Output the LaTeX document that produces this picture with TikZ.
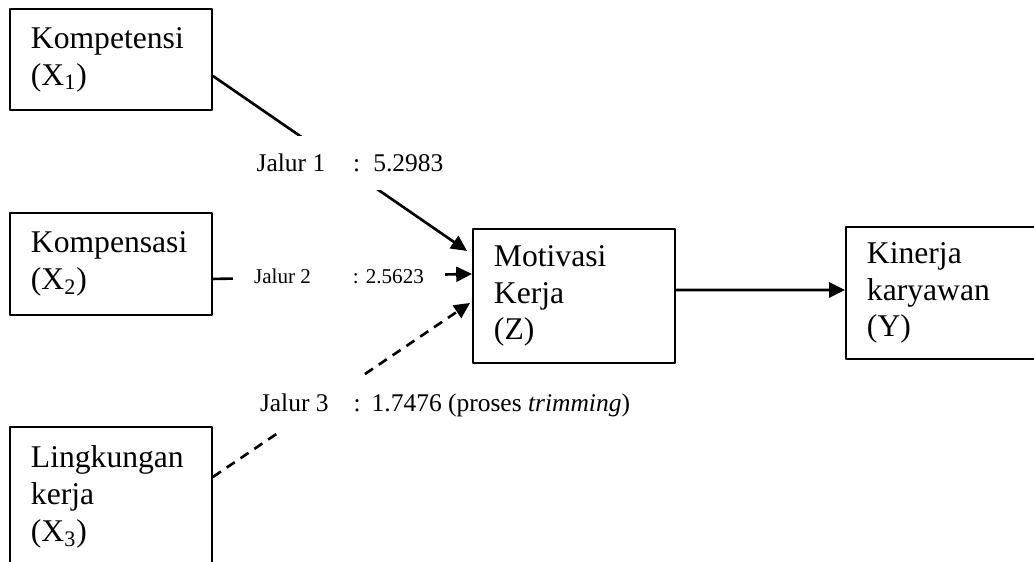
\documentclass[tikz,border=0pt]{standalone}
\usepackage{fontspec}
\setmainfont{Liberation Serif}
\usetikzlibrary{arrows.meta,calc}
\begin{document}
\begin{tikzpicture}[x=0.02cm,y=-0.02cm,line join=round,>={Triangle[length=9pt,width=8.5pt]},
	kotak/.style={draw,line width=1.1pt,anchor=north west,text width=3.2cm,align=left,
		inner xsep=0.42cm,inner ysep=0pt,minimum width=4.04cm,font=\fontsize{18}{21}\selectfont},
	jalur/.style={line width=1.5pt},
	ket/.style={fill=white,inner sep=0pt,font=\fontsize{14.5}{17}\selectfont}]
	\useasboundingbox (0,0) rectangle (1034,561);
	% variabel
	\path
	(9,8) node[kotak,minimum height=2.02cm] (x1) {Kompetensi\\(X\textsubscript{1})}
	(9,212) node[kotak,minimum height=2.04cm] (x2) {Kompensasi\\(X\textsubscript{2})}
	(9,426) node[kotak,minimum height=2.8cm] (x3) {Lingkungan\\kerja\\(X\textsubscript{3})}
	(472,228) node[kotak,minimum height=2.68cm] (z) {Motivasi\\Kerja\\(Z)}
	(845,226) node[kotak,minimum height=2.64cm] (y) {Kinerja\\karyawan\\(Y)}
	;
	% jalur
	\draw[jalur,->] ($(x1.east)+(0,16.5)$)--($(z.west)+(-5,-45)$);
	\draw[jalur,->] ($(x2.east)+(0,15)$)--($(z.west)+(0,-22)$);
	\draw[jalur,->,dash pattern=on 5.5pt off 4pt] ($(x3.east)+(0,-20)$)--($(z.west)+(-2,7)$);
	\draw[jalur,->] ($(z.east)+(0,-6)$)--($(y.west)+(0,-3)$);
	% keterangan
	\path
	(350,163) node[ket,minimum width=3.9cm,minimum height=1.08cm] (j1) {Jalur 1\hspace{0.56cm}:\hspace{0.26cm}5.2983}
	(339,276) node[ket,minimum width=4.24cm,minimum height=0.6cm,font=\fontsize{12}{14}\selectfont] (j2) {Jalur 2\hspace{0.84cm}: 2.5623}
	(445,405) node[ket,minimum width=7.8cm,minimum height=1.12cm] (j3) {Jalur 3\hspace{0.5cm}:\hspace{0.22cm}1.7476 (proses \textit{trimming})}
	;
\end{tikzpicture}
\end{document}
